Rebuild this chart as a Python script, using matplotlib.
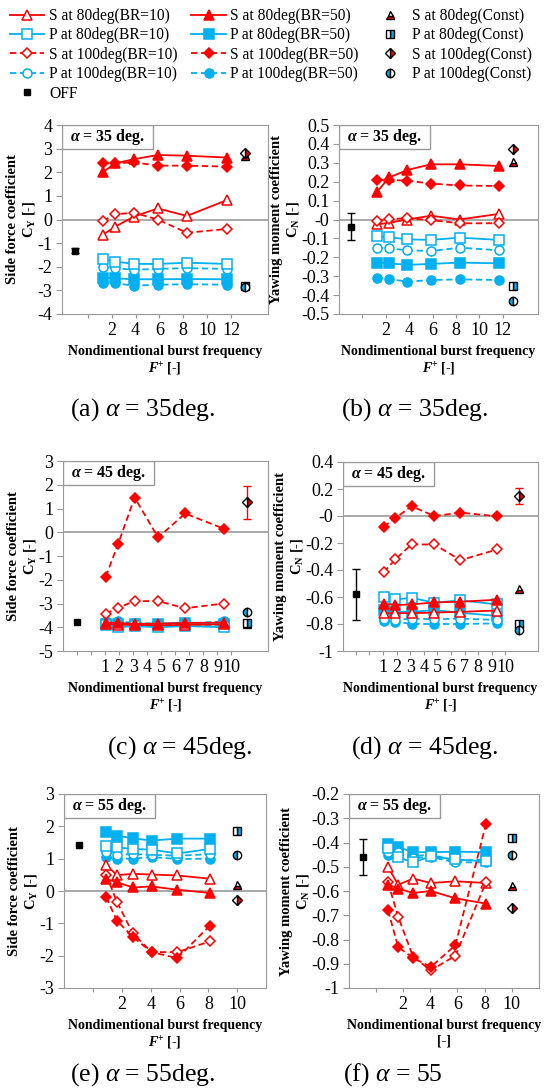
import numpy as np
import matplotlib.pyplot as plt
from matplotlib.lines import Line2D
from matplotlib.patches import Rectangle

plt.rcParams['font.family'] = 'serif'
plt.rcParams['font.serif'] = ['Liberation Serif', 'DejaVu Serif']
plt.rcParams['axes.unicode_minus'] = False
plt.rcParams['mathtext.fontset'] = 'custom'
plt.rcParams['mathtext.rm'] = 'Liberation Serif'
plt.rcParams['mathtext.it'] = 'Liberation Serif:italic'
plt.rcParams['mathtext.bf'] = 'Liberation Serif:bold'
plt.rcParams['mathtext.bfit'] = 'Liberation Serif:italic:bold'

RED = '#FF0000'
BLUE = '#00B0F0'
GRAY = '#9A9A9A'

# panels: (a) CY 35, (b) CN 35, (c) CY 45, (d) CN 45, (e) CY 55, (f) CN 55
fplus = [
    [1.25, 2.3, 3.85, 5.85, 8.3, 11.7],
    [1.25, 2.3, 3.85, 5.85, 8.3, 11.7],
    [1.05, 1.92, 3.1, 4.78, 6.7, 9.45],
    [1.05, 1.92, 3.1, 4.78, 6.7, 9.4],
    [0.9, 1.65, 2.75, 4.05, 5.85, 8.1],
    [0.9, 1.65, 2.75, 4.05, 5.85, 8.1],
]

s80_br10 = [
    [-0.65, -0.3, 0.12, 0.47, 0.15, 0.83],
    [-0.026, -0.017, 0.0, 0.02, 0.0, 0.03],
    [-3.85, -3.9, -3.9, -3.92, -3.9, -3.88],
    [-0.72, -0.72, -0.72, -0.715, -0.71, -0.70],
    [0.80, 0.49, 0.53, 0.51, 0.48, 0.38],
    [-0.502, -0.574, -0.549, -0.567, -0.56, -0.567],
]
s80_br50 = [
    [2.0, 2.38, 2.55, 2.73, 2.70, 2.62],
    [0.147, 0.223, 0.262, 0.292, 0.292, 0.283],
    [-3.8, -3.82, -3.85, -3.85, -3.82, -3.8],
    [-0.65, -0.66, -0.655, -0.64, -0.635, -0.62],
    [0.37, 0.27, 0.11, 0.14, 0.04, -0.06],
    [-0.574, -0.59, -0.608, -0.60, -0.63, -0.652],
]
s100_br10 = [
    [-0.06, 0.22, 0.29, 0.0, -0.56, -0.4],
    [-0.008, 0.003, 0.006, -0.003, -0.02, -0.02],
    [-3.44, -3.18, -2.9, -2.9, -3.2, -3.0],
    [-0.416, -0.32, -0.211, -0.211, -0.327, -0.248],
    [0.5, -0.34, -1.31, -1.89, -1.89, -1.56],
    [-0.564, -0.707, -0.872, -0.927, -0.867, -0.564],
]
s100_br50 = [
    [2.38, 2.38, 2.42, 2.28, 2.28, 2.24],
    [0.21, 0.21, 0.205, 0.19, 0.18, 0.177],
    [-1.87, -0.5, 1.46, -0.22, 0.79, 0.15],
    [-0.08, -0.014, 0.072, 0.0, 0.025, -0.002],
    [-0.19, -0.92, -1.42, -1.89, -2.08, -1.07],
    [-0.68, -0.832, -0.876, -0.913, -0.824, -0.324],
]
p80_br10 = [
    [-1.67, -1.78, -1.88, -1.88, -1.83, -1.88],
    [-0.087, -0.094, -0.105, -0.108, -0.096, -0.108],
    [-3.9, -4.0, -3.95, -4.0, -3.95, -4.0],
    [-0.598, -0.618, -0.606, -0.642, -0.625, -0.655],
    [1.40, 1.35, 1.30, 1.28, 1.16, 1.30],
    [-0.423, -0.461, -0.482, -0.457, -0.47, -0.478],
]
p80_br50 = [
    [-2.46, -2.49, -2.53, -2.53, -2.52, -2.53],
    [-0.228, -0.232, -0.24, -0.235, -0.228, -0.232],
    [-3.85, -3.85, -3.88, -3.85, -3.8, -3.85],
    [-0.697, -0.71, -0.71, -0.697, -0.717, -0.74],
    [1.81, 1.71, 1.63, 1.56, 1.62, 1.62],
    [-0.405, -0.419, -0.44, -0.44, -0.438, -0.44],
]
p100_br10 = [
    [-2.0, -2.06, -2.13, -2.09, -2.06, -2.09],
    [-0.149, -0.153, -0.163, -0.167, -0.149, -0.163],
    [-3.85, -3.9, -3.85, -3.9, -3.9, -3.9],
    [-0.76, -0.77, -0.76, -0.765, -0.76, -0.77],
    [1.2, 1.12, 1.14, 1.12, 1.09, 1.14],
    [-0.44, -0.44, -0.464, -0.46, -0.482, -0.482],
]
p100_br50 = [
    [-2.7, -2.7, -2.8, -2.76, -2.74, -2.76],
    [-0.308, -0.315, -0.329, -0.32, -0.317, -0.32],
    [-3.72, -3.75, -3.82, -3.85, -3.85, -3.75],
    [-0.778, -0.783, -0.80, -0.80, -0.80, -0.795],
    [1.05, 1.0, 1.0, 1.05, 0.99, 1.0],
    [-0.45, -0.447, -0.457, -0.45, -0.475, -0.47],
]

# jet OFF
off_x = [-1.1, -1.0, -1.0, -1.0, -1.0, -0.95]
off_y = [-1.32, -0.038, -3.76, -0.58, 1.42, -0.461]
off_err = [0.1, 0.07, 0.0, 0.19, 0.0, 0.075]

# constant blowing
const_x = [13.2, 12.85, 11.1, 11.0, 10.0, 10.0]
const_s80 = [2.7, 0.306, -3.85, -0.544, 0.18, -0.581]
const_p80 = [-2.8, -0.35, -3.8, -0.80, 1.87, -0.381]
const_s100 = [2.8, 0.371, 1.26, 0.146, -0.27, -0.67]
const_p100 = [-2.84, -0.43, -3.35, -0.845, 1.12, -0.453]
const_s100_err = [0.0, 0.0, 0.69, 0.06, 0.0, 0.0]

alphas = [35, 35, 45, 45, 55, 55]
letters = ['a', 'b', 'c', 'd', 'e', 'f']
ylims = [(-4, 4), (-0.5, 0.5), (-5, 3), (-1, 0.4), (-3, 3), (-1, -0.2)]
ysteps = [1, 0.1, 1, 0.2, 1, 0.1]
xlims = [(-2.17, 15.1), (-2.0, 15.0), (-2.0, 12.6), (-1.94, 12.4), (-2.03, 12.0), (-1.97, 12.0)]
xticks = [list(range(0, 13, 2)), list(range(0, 13, 2)),
          list(range(-1, 11)), list(range(-1, 11)),
          list(range(0, 11, 2)), list(range(0, 11, 2))]

W, H = 547, 1088
rects = [(62, 125, 268, 314), (339, 125, 538, 314),
         (63, 461, 268, 651), (343, 462, 538, 651),
         (64, 794, 266, 988), (349, 794, 539, 988)]
captions = [(143, 410), (415, 410), (180, 748), (425, 748), (143, 1075), (393, 1075)]

DASH = (0, (3.5, 2.0))
styles = [
    (p100_br50, BLUE, DASH, 'o', BLUE),
    (p80_br50, BLUE, '-', 's', BLUE),
    (p100_br10, BLUE, DASH, 'o', 'white'),
    (p80_br10, BLUE, '-', 's', 'white'),
    (s80_br10, RED, '-', '^', 'white'),
    (s100_br10, RED, DASH, 'D', 'white'),
    (s80_br50, RED, '-', '^', RED),
    (s100_br50, RED, DASH, 'D', RED),
]
msize = {'o': 6.5, 's': 6.5, '^': 7, 'D': 5.5}

fig = plt.figure(figsize=(W / 100, H / 100), dpi=100)

for i in range(6):
    x0, y0, x1, y1 = rects[i]
    ax = fig.add_axes([x0 / W, 1 - y1 / H, (x1 - x0) / W, (y1 - y0) / H])
    for sp in ax.spines.values():
        sp.set_color(GRAY)
    ax.set_xlim(*xlims[i])
    ax.set_ylim(*ylims[i])
    lo, hi = ylims[i]
    yt = np.round(np.arange(lo, hi + ysteps[i] / 2, ysteps[i]), 2)
    ax.set_yticks(yt)
    ax.set_yticklabels(['%g' % v for v in yt])
    ax.set_xticks(xticks[i])
    ax.set_xticklabels([str(t) if t > 0 else '' for t in xticks[i]])
    ax.tick_params(labelsize=13, color=GRAY, length=4, direction='out', pad=3)
    ax.tick_params(axis='x', length=3)
    if lo < 0 < hi:
        ax.axhline(0, color=GRAY, lw=1.2, zorder=1)

    for data, col, ls, mk, fc in styles:
        ax.plot(fplus[i], data[i], color=col, ls=ls, lw=1.3, marker=mk,
                ms=msize[mk], mfc=fc, mec=col, mew=1.1, zorder=3)

    ax.errorbar(off_x[i], off_y[i], yerr=off_err[i] if off_err[i] else None,
                fmt='s', color='black', ms=5, capsize=3, elinewidth=1, zorder=4)
    cx = const_x[i]
    if const_s100_err[i]:
        ax.errorbar(cx, const_s100[i], yerr=const_s100_err[i], fmt='none',
                    ecolor=RED, elinewidth=1, capsize=3, zorder=4)
    ax.plot(cx, const_s80[i], marker='^', ms=6, mec='black', mfc=RED, mfcalt='white',
            fillstyle='bottom', mew=1, ls='none', zorder=5)
    ax.plot(cx, const_p80[i], marker='s', ms=5.5, mec='black', mfc=BLUE, mfcalt='white',
            fillstyle='right', mew=1, ls='none', zorder=5)
    ax.plot(cx, const_s100[i], marker='D', ms=5, mec='black', mfc=RED, mfcalt='white',
            fillstyle='right', mew=1, ls='none', zorder=5)
    ax.plot(cx, const_p100[i], marker='o', ms=6, mec='black', mfc=BLUE, mfcalt='white',
            fillstyle='left', mew=1, ls='none', zorder=5)

    # alpha box
    bw, bh = 91 / (x1 - x0), 24 / (y1 - y0)
    ax.add_patch(Rectangle((0, 1 - bh), bw, bh, transform=ax.transAxes, fc='white',
                           ec=GRAY, lw=1, zorder=6))
    ax.text(bw / 2, 1 - bh / 2, r'$\mathbfit{\alpha}$ = %d deg.' % alphas[i],
            transform=ax.transAxes, ha='center', va='center', fontsize=11.5,
            fontweight='bold', zorder=7)

    if i % 2 == 0:
        ax.set_ylabel('Side force coefficient\n' + r'$\mathbf{C_Y}$ [-]',
                      fontsize=10.5, fontweight='bold', labelpad=0, linespacing=1.2)
    else:
        ax.set_ylabel('Yawing moment coefficient\n' + r'$\mathbf{C_N}$ [-]',
                      fontsize=10.5, fontweight='bold', labelpad=0, linespacing=1.2)
    second = r'$\mathbfit{F}^{\mathbf{+}}$ [-]' if i != 5 else '[-]'
    ax.set_xlabel('Nondimentional burst frequency\n' + second,
                  fontsize=10, fontweight='bold', labelpad=4, linespacing=1.25)

    tx, ty = captions[i]
    fig.text(tx / W, 1 - ty / H, r'(%s) $\alpha$ = %ddeg.' % (letters[i], alphas[i])
             if i != 5 else r'(f) $\alpha$ = 55',
             ha='center', va='center', fontsize=18.5)

# legend
def h(col, ls, mk, fc, ms):
    return Line2D([], [], color=col, ls=ls, lw=1.3, marker=mk, ms=ms, mfc=fc, mec=col, mew=1.1)

handles = [
    h(RED, '-', '^', 'white', 7), h(BLUE, '-', 's', 'white', 6.5),
    h(RED, DASH, 'D', 'white', 5.5), h(BLUE, DASH, 'o', 'white', 6.5),
    Line2D([], [], ls='none', marker='s', color='black', ms=5),
    h(RED, '-', '^', RED, 7), h(BLUE, '-', 's', BLUE, 6.5),
    h(RED, DASH, 'D', RED, 5.5), h(BLUE, DASH, 'o', BLUE, 6.5),
    Line2D([], [], ls='none', marker='^', ms=6, mec='black', mfc=RED, mfcalt='white', fillstyle='bottom'),
    Line2D([], [], ls='none', marker='s', ms=5.5, mec='black', mfc=BLUE, mfcalt='white', fillstyle='right'),
    Line2D([], [], ls='none', marker='D', ms=5, mec='black', mfc=RED, mfcalt='white', fillstyle='right'),
    Line2D([], [], ls='none', marker='o', ms=6, mec='black', mfc=BLUE, mfcalt='white', fillstyle='left'),
]
labels = ['S at 80deg(BR=10)', 'P at 80deg(BR=10)', 'S at 100deg(BR=10)', 'P at 100deg(BR=10)', 'OFF',
          'S at 80deg(BR=50)', 'P at 80deg(BR=50)', 'S at 100deg(BR=50)', 'P at 100deg(BR=50)',
          'S at 80deg(Const)', 'P at 80deg(Const)', 'S at 100deg(Const)', 'P at 100deg(Const)']
fig.legend(handles, labels, ncol=3, loc='upper left', bbox_to_anchor=(10 / W, 1 - 8 / H),
           frameon=False, fontsize=11.2, handlelength=2.2, handletextpad=0.3,
           columnspacing=0.9, labelspacing=0.22, borderpad=0, borderaxespad=0)

fig.savefig('out.png', dpi=100)
